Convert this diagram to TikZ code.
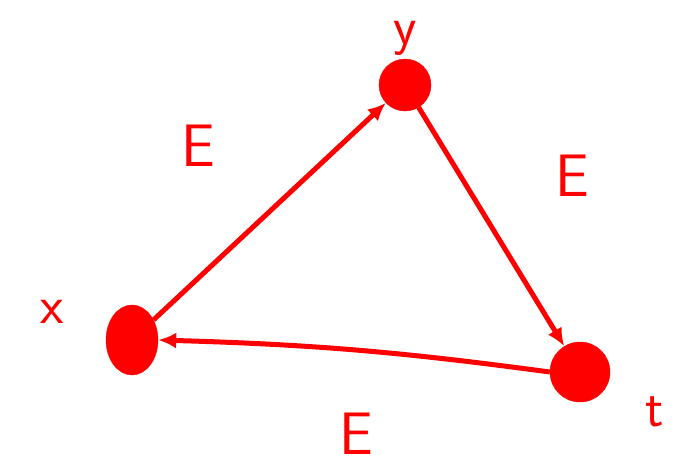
\documentclass[tikz,border=0pt]{standalone}
\usepackage{tikz}
\usepackage{xcolor}
\usetikzlibrary{arrows.meta, positioning, shapes.geometric}
\definecolor{inkred}{HTML}{FF0000}

\begin{document}
\begin{tikzpicture}[
      x=1pt, y=-1pt,
      vertex/.style={fill=inkred, draw=inkred, circle, minimum size=52pt, inner sep=0pt},
      tag/.style={text=inkred, font=\sffamily\fontsize{54}{54}\selectfont, inner sep=0pt},
      elabel/.style={text=inkred, font=\sffamily\fontsize{60}{60}\selectfont, inner sep=0pt},
      line/.style={-{Latex[length=18pt, width=16pt]}, line width=5pt, draw=inkred}
    ]
      \useasboundingbox (0,0) rectangle (692,471);

      \node[vertex] (y) at (405,85) {};
      \node[vertex, ellipse, minimum width=52pt, minimum height=70pt] (x) at (132,340) {};
      \node[vertex, minimum size=60pt] (t) at (580,372) {};

      \node[tag] (ylab) at (405,38) {y};
      \node[tag] (xlab) at (52,312) {x};
      \node[tag] (tlab) at (655,412) {t};

      \node[elabel] (e1) at (198,146) {E};
      \node[elabel] (e2) at (572,176) {E};
      \node[elabel] (e3) at (356,434) {E};

      \draw[line] (x) -- (y);
      \draw[line] (y) -- (t);
      \draw[line] (t.west) to[bend right=3] (x.east);
    \end{tikzpicture}
\end{document}
